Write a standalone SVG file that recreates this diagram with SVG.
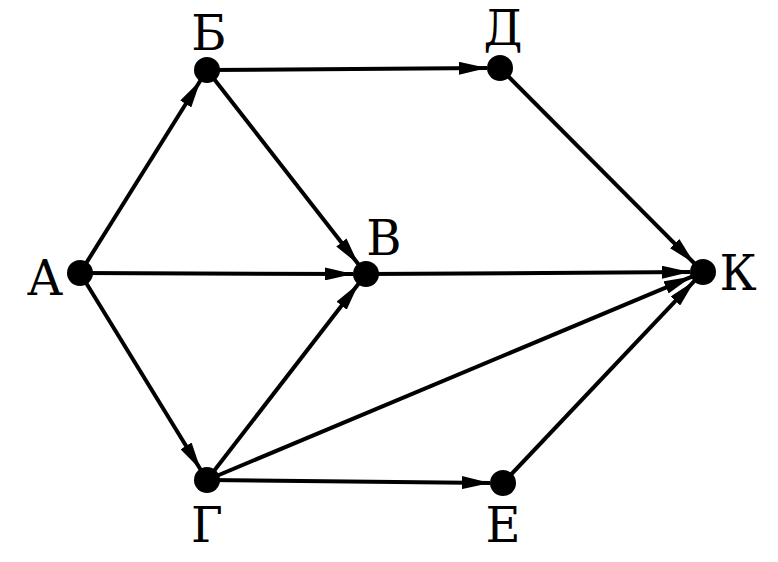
<svg xmlns="http://www.w3.org/2000/svg" width="778" height="562" viewBox="0 0 778 562">
<style>
.e{stroke:#000;stroke-width:4;fill:none;marker-end:url(#ah)}
.n{fill:#000}
.t{font-family:"DejaVu Serif",serif;font-size:48px;fill:#000;text-anchor:middle}
</style>
<defs>
<marker id="ah" markerUnits="userSpaceOnUse" viewBox="0 0 28 13" markerWidth="28" markerHeight="13" refX="28" refY="6.5" orient="auto">
<path d="M0,0 L28,6.5 L0,13 z" fill="#000"/>
</marker>
</defs>
<rect width="778" height="562" fill="#fff"/>
<g id="connectors">
<line class="e" x1="80" y1="273" x2="200.6" y2="80.2"/>
<line class="e" x1="80" y1="273" x2="353" y2="274"/>
<line class="e" x1="80" y1="273" x2="200.7" y2="469.8"/>
<line class="e" x1="207" y1="70" x2="487" y2="68.1"/>
<line class="e" x1="207" y1="70" x2="358.6" y2="264.5"/>
<line class="e" x1="500" y1="68" x2="694.5" y2="263.5"/>
<line class="e" x1="366" y1="274" x2="690" y2="272.1"/>
<line class="e" x1="207" y1="480" x2="358.7" y2="283.5"/>
<line class="e" x1="207" y1="480" x2="691.9" y2="276.6"/>
<line class="e" x1="207" y1="480" x2="490" y2="482.9"/>
<line class="e" x1="503" y1="483" x2="694.7" y2="280.7"/>
</g>
<g id="A"><circle class="n" cx="80" cy="273" r="13"/><text class="t" x="45" y="295">А</text></g>
<g id="B"><circle class="n" cx="207" cy="70" r="13"/><text class="t" x="209" y="50">Б</text></g>
<g id="D"><circle class="n" cx="500" cy="68" r="13"/><text class="t" x="503" y="45">Д</text></g>
<g id="V"><circle class="n" cx="366" cy="274" r="13"/><text class="t" x="384" y="255">В</text></g>
<g id="K"><circle class="n" cx="703" cy="272" r="13"/><text class="t" x="738" y="290">К</text></g>
<g id="G"><circle class="n" cx="207" cy="480" r="13"/><text class="t" x="207" y="542">Г</text></g>
<g id="E"><circle class="n" cx="503" cy="483" r="13"/><text class="t" x="503" y="542">Е</text></g>
</svg>
